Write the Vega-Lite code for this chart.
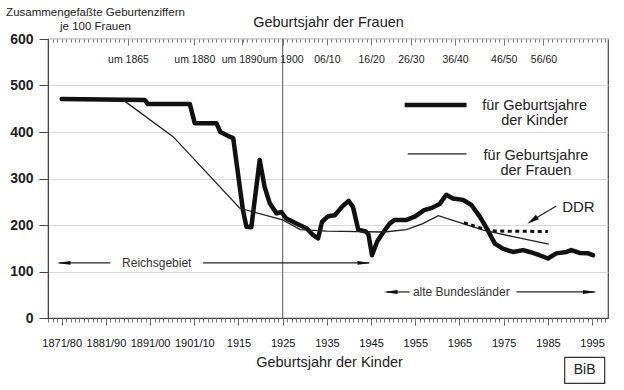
{
  "$schema": "https://vega.github.io/schema/vega-lite/v6.json",
  "autosize": {"type": "none"},
  "width": 560,
  "height": 279,
  "padding": {"left": 48, "top": 39, "right": 16, "bottom": 72},
  "background": "white",
  "config": {
    "view": {"stroke": "#444", "strokeWidth": 1.2},
    "font": "Liberation Sans",
    "axis": {"labelFont": "Liberation Sans", "titleFont": "Liberation Sans"},
    "text": {"font": "Liberation Sans"}
  },
  "datasets": {
    "kinder": [
      {"year": 1875, "value": 471}, {"year": 1893.8, "value": 469}, {"year": 1894.5, "value": 460}, {"year": 1904, "value": 460},
      {"year": 1905.1, "value": 419}, {"year": 1910, "value": 419}, {"year": 1910.9, "value": 400}, {"year": 1913, "value": 390},
      {"year": 1913.8, "value": 387}, {"year": 1916, "value": 232}, {"year": 1916.8, "value": 196}, {"year": 1917.9, "value": 195},
      {"year": 1919.8, "value": 340}, {"year": 1920.9, "value": 282}, {"year": 1922.1, "value": 246}, {"year": 1923.6, "value": 225},
      {"year": 1924.7, "value": 228}, {"year": 1925.8, "value": 214}, {"year": 1927.3, "value": 207}, {"year": 1928.8, "value": 200},
      {"year": 1930.4, "value": 193}, {"year": 1931.9, "value": 178}, {"year": 1933, "value": 171}, {"year": 1933.9, "value": 207},
      {"year": 1935.3, "value": 219}, {"year": 1936.8, "value": 221}, {"year": 1938.5, "value": 240}, {"year": 1939.9, "value": 252},
      {"year": 1940.9, "value": 239}, {"year": 1942.1, "value": 190}, {"year": 1943.8, "value": 186}, {"year": 1944.4, "value": 180},
      {"year": 1945.2, "value": 135}, {"year": 1946.4, "value": 165}, {"year": 1947.8, "value": 185}, {"year": 1949.2, "value": 203},
      {"year": 1950.3, "value": 211}, {"year": 1953, "value": 211}, {"year": 1954.9, "value": 218}, {"year": 1957, "value": 232},
      {"year": 1958.8, "value": 237}, {"year": 1960.5, "value": 245}, {"year": 1962, "value": 265}, {"year": 1963.5, "value": 257},
      {"year": 1965.8, "value": 254}, {"year": 1967.7, "value": 243}, {"year": 1969.6, "value": 218}, {"year": 1971.4, "value": 189},
      {"year": 1973, "value": 160}, {"year": 1974.8, "value": 149}, {"year": 1977.1, "value": 142}, {"year": 1979.4, "value": 146},
      {"year": 1980.9, "value": 142}, {"year": 1983.1, "value": 135}, {"year": 1985, "value": 128}, {"year": 1986.9, "value": 139},
      {"year": 1989.2, "value": 142}, {"year": 1990.3, "value": 146}, {"year": 1992.2, "value": 140}, {"year": 1994.1, "value": 139},
      {"year": 1995.2, "value": 135}
    ],
    "frauen": [
      {"year": 1889, "value": 468}, {"year": 1900.2, "value": 390}, {"year": 1915.3, "value": 236}, {"year": 1925, "value": 211},
      {"year": 1929, "value": 190}, {"year": 1935, "value": 187}, {"year": 1948, "value": 185}, {"year": 1953, "value": 190},
      {"year": 1956.7, "value": 203}, {"year": 1960.2, "value": 220}, {"year": 1965.8, "value": 203}, {"year": 1970.4, "value": 189},
      {"year": 1977.1, "value": 175}, {"year": 1985.2, "value": 159}
    ],
    "ddr": [
      {"year": 1966, "value": 205}, {"year": 1969.5, "value": 194}, {"year": 1973, "value": 187}, {"year": 1985, "value": 186}
    ]
  },
  "resolve": {"axis": {"x": "independent", "y": "independent"}},
  "layer": [
    {
      "data": {"values": [{"year": 1925}]},
      "mark": {"type": "rule", "color": "#555", "strokeWidth": 1},
      "encoding": {
        "x": {"field": "year", "type": "quantitative", "scale": {"domain": [1871.9, 1998.6], "nice": false, "zero": false},
          "axis": {"orient": "bottom", "offset": -279, "values": [1872,1873,1874,1875,1876,1877,1878,1879,1880,1881,1882,1883,1884,1885,1886,1887,1888,1889,1890,1891,1892,1893,1894,1895,1896,1897,1898,1899,1900,1901,1902,1903,1904,1905,1906,1907,1908,1909,1910,1911,1912,1913,1914,1915,1916,1917,1918,1919,1920,1921,1922,1923,1924,1925,1926,1927,1928,1929,1930,1931,1932,1933,1934,1935,1936,1937,1938,1939,1940,1941,1942,1943,1944,1945,1946,1947,1948,1949,1950,1951,1952,1953,1954,1955,1956,1957,1958,1959,1960,1961,1962,1963,1964,1965,1966,1967,1968,1969,1970,1971,1972,1973,1974,1975,1976,1977,1978,1979,1980,1981,1982,1983,1984,1985,1986,1987,1988,1989,1990,1991,1992,1993,1994,1995,1996,1997,1998],
            "labels": false, "tickSize": 3, "tickColor": "#777", "domain": false, "grid": false, "title": null}}
      }
    },
    {
      "data": {"name": "kinder"},
      "mark": {"type": "line", "color": "#111", "strokeWidth": 4.5, "strokeJoin": "round", "strokeCap": "round"},
      "encoding": {
        "x": {"field": "year", "type": "quantitative",
          "axis": {"orient": "bottom", "values": [1875,1885,1895,1905,1915,1925,1935,1945,1955,1965,1975,1985,1995], "format": "d",
            "labelExpr": "datum.value == 1875 ? '1871/80' : datum.value == 1885 ? '1881/90' : datum.value == 1895 ? '1891/00' : datum.value == 1905 ? '1901/10' : datum.label",
            "tickSize": 7, "tickColor": "#555", "domainColor": "#444", "labelPadding": 12, "labelFontSize": 11, "labelColor": "#111",
            "labelFlush": false, "labelOverlap": false, "grid": false,
            "title": "Geburtsjahr der Kinder", "titleFontSize": 14.5, "titleFontWeight": "normal", "titleColor": "#222",
            "titleX": 281, "titleY": 44, "titleBaseline": "middle"}},
        "y": {"field": "value", "type": "quantitative", "scale": {"domain": [0, 600], "nice": false, "zero": false},
          "axis": {"values": [0,100,200,300,400,500,600], "labelFontSize": 14, "labelFontWeight": "bold", "labelColor": "#222",
            "tickSize": 9, "tickColor": "#444", "domainColor": "#444", "labelPadding": 6,
            "grid": true, "gridColor": "#d9d9d9",
            "title": ["Zusammengefaßte Geburtenziffern", "je 100 Frauen"], "titleAngle": 0, "titleAlign": "center",
            "titleX": 47, "titleY": -33, "titleBaseline": "top", "titleFontSize": 11.5, "titleFontWeight": "normal", "titleColor": "#222", "titleLineHeight": 14}}
      }
    },
    {
      "data": {"name": "frauen"},
      "mark": {"type": "line", "color": "#222", "strokeWidth": 1.3},
      "encoding": {
        "x": {"field": "year", "type": "quantitative",
          "axis": {"orient": "bottom", "values": [1872,1873,1874,1875,1876,1877,1878,1879,1880,1881,1882,1883,1884,1885,1886,1887,1888,1889,1890,1891,1892,1893,1894,1895,1896,1897,1898,1899,1900,1901,1902,1903,1904,1905,1906,1907,1908,1909,1910,1911,1912,1913,1914,1915,1916,1917,1918,1919,1920,1921,1922,1923,1924,1925,1926,1927,1928,1929,1930,1931,1932,1933,1934,1935,1936,1937,1938,1939,1940,1941,1942,1943,1944,1945,1946,1947,1948,1949,1950,1951,1952,1953,1954,1955,1956,1957,1958,1959,1960,1961,1962,1963,1964,1965,1966,1967,1968,1969,1970,1971,1972,1973,1974,1975,1976,1977,1978,1979,1980,1981,1982,1983,1984,1985,1986,1987,1988,1989,1990,1991,1992,1993,1994,1995,1996,1997,1998],
            "labels": false, "tickSize": 4, "tickColor": "#777", "domain": false, "grid": false, "title": null}},
        "y": {"field": "value", "type": "quantitative", "axis": null}
      }
    },
    {
      "data": {"name": "ddr"},
      "mark": {"type": "line", "color": "#111", "strokeWidth": 3, "strokeDash": [4, 3.5]},
      "encoding": {
        "x": {"field": "year", "type": "quantitative",
          "axis": {"orient": "bottom", "offset": -279, "values": [1890, 1905, 1915.7, 1925, 1935, 1945, 1954, 1964, 1975, 1984],
            "labelExpr": "datum.value < 1897 ? 'um 1865' : datum.value < 1910 ? 'um 1880' : datum.value < 1920 ? 'um 1890' : datum.value < 1930 ? 'um 1900' : datum.value < 1940 ? '06/10' : datum.value < 1950 ? '16/20' : datum.value < 1960 ? '26/30' : datum.value < 1970 ? '36/40' : datum.value < 1980 ? '46/50' : '56/60'",
            "tickSize": 6, "tickColor": "#777", "labelPadding": 9, "labelFontSize": 10.5, "labelColor": "#222",
            "labelFlush": false, "labelOverlap": false, "labelBound": false, "domain": false, "grid": false,
            "title": "Geburtsjahr der Frauen", "titleFontSize": 14.5, "titleFontWeight": "normal", "titleColor": "#222",
            "titleX": 280, "titleY": -17, "titleBaseline": "middle"}},
        "y": {"field": "value", "type": "quantitative", "axis": null}
      }
    },
    {
      "data": {"values": [{"year": 1952.6, "value": 458}, {"year": 1966.6, "value": 458}]},
      "mark": {"type": "line", "color": "#111", "strokeWidth": 4.5},
      "encoding": {
        "x": {"field": "year", "type": "quantitative", "axis": null},
        "y": {"field": "value", "type": "quantitative", "axis": null}
      }
    },
    {
      "data": {"values": [{"year": 1953.3, "value": 353}, {"year": 1966.6, "value": 353}]},
      "mark": {"type": "line", "color": "#222", "strokeWidth": 1.3},
      "encoding": {
        "x": {"field": "year", "type": "quantitative", "axis": null},
        "y": {"field": "value", "type": "quantitative", "axis": null}
      }
    },
    {
      "data": {"values": [
        {"year": 1874.5, "year2": 1886, "value": 118.5, "value2": 118.5},
        {"year": 1907, "year2": 1944.5, "value": 118.5, "value2": 118.5},
        {"year": 1948.5, "year2": 1953.7, "value": 56, "value2": 56},
        {"year": 1977.9, "year2": 1995.5, "value": 56, "value2": 56},
        {"year": 1986.9, "year2": 1981.5, "value": 241, "value2": 210}
      ]},
      "mark": {"type": "rule", "color": "#222", "strokeWidth": 1.2},
      "encoding": {
        "x": {"field": "year", "type": "quantitative", "axis": null},
        "x2": {"field": "year2"},
        "y": {"field": "value", "type": "quantitative", "axis": null},
        "y2": {"field": "value2"}
      }
    },
    {
      "data": {"values": [{"year": 1875.4, "value": 118.5}, {"year": 1949.4, "value": 56}]},
      "mark": {"type": "point", "shape": "M-1,0L1,-0.28L1,0.28Z", "size": 196, "filled": true, "color": "#111", "opacity": 1},
      "encoding": {
        "x": {"field": "year", "type": "quantitative", "axis": null},
        "y": {"field": "value", "type": "quantitative", "axis": null}
      }
    },
    {
      "data": {"values": [{"year": 1943.5, "value": 118.5}, {"year": 1994.5, "value": 56}]},
      "mark": {"type": "point", "shape": "M1,0L-1,-0.28L-1,0.28Z", "size": 196, "filled": true, "color": "#111", "opacity": 1},
      "encoding": {
        "x": {"field": "year", "type": "quantitative", "axis": null},
        "y": {"field": "value", "type": "quantitative", "axis": null}
      }
    },
    {
      "data": {"values": [{"year": 1981.5, "value": 210}]},
      "mark": {"type": "point", "shape": "M-1,0L1,-0.45L1,0.45Z", "size": 144, "filled": true, "color": "#111", "opacity": 1, "angle": 326},
      "encoding": {
        "x": {"field": "year", "type": "quantitative", "axis": null},
        "y": {"field": "value", "type": "quantitative", "axis": null}
      }
    },
    {
      "data": {"values": [
        {"year": 1982, "value": 456, "label": "für Geburtsjahre\nder Kinder"},
        {"year": 1982.3, "value": 349, "label": "für Geburtsjahre\nder Frauen"}
      ]},
      "mark": {"type": "text", "fontSize": 14.5, "lineBreak": "\n", "lineHeight": 15, "align": "center", "baseline": "middle", "color": "#222"},
      "encoding": {
        "x": {"field": "year", "type": "quantitative", "axis": null},
        "y": {"field": "value", "type": "quantitative", "axis": null},
        "text": {"field": "label"}
      }
    },
    {
      "data": {"values": [{"year": 1991.9, "value": 239, "label": "DDR"}]},
      "mark": {"type": "text", "fontSize": 15, "align": "center", "baseline": "middle", "color": "#222"},
      "encoding": {
        "x": {"field": "year", "type": "quantitative", "axis": null},
        "y": {"field": "value", "type": "quantitative", "axis": null},
        "text": {"field": "label"}
      }
    },
    {
      "data": {"values": [
        {"year": 1896.5, "value": 118.5, "label": "Reichsgebiet"},
        {"year": 1965.4, "value": 56, "label": "alte Bundesländer"}
      ]},
      "mark": {"type": "text", "fontSize": 12, "align": "center", "baseline": "middle", "color": "#333"},
      "encoding": {
        "x": {"field": "year", "type": "quantitative", "axis": null},
        "y": {"field": "value", "type": "quantitative", "axis": null},
        "text": {"field": "label"}
      }
    },
    {
      "data": {"values": [{"year": 1988.8, "year2": 1997.85, "value": -84.7, "value2": -140.7}]},
      "mark": {"type": "rect", "fill": "white", "stroke": "#333", "strokeWidth": 1.2},
      "encoding": {
        "x": {"field": "year", "type": "quantitative", "axis": null},
        "x2": {"field": "year2"},
        "y": {"field": "value", "type": "quantitative", "axis": null},
        "y2": {"field": "value2"}
      }
    },
    {
      "data": {"values": [{"year": 1993.3, "value": -112.7, "label": "BiB"}]},
      "mark": {"type": "text", "fontSize": 14, "align": "center", "baseline": "middle", "color": "#222"},
      "encoding": {
        "x": {"field": "year", "type": "quantitative", "axis": null},
        "y": {"field": "value", "type": "quantitative", "axis": null},
        "text": {"field": "label"}
      }
    }
  ]
}
